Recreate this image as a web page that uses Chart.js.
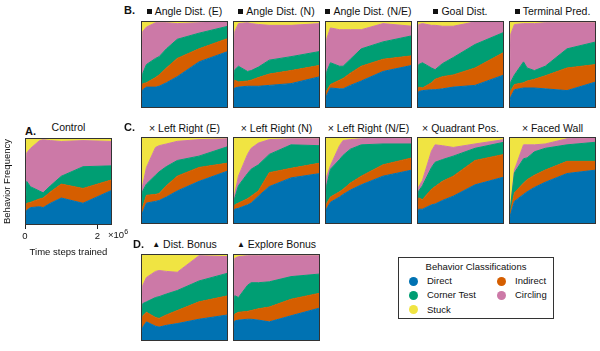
<!DOCTYPE html>
<html>
<head>
<meta charset="utf-8">
<script src="https://cdn.jsdelivr.net/npm/chart.js@4.4.1/dist/chart.umd.min.js"></script>
<style>
  body { margin: 0; width: 600px; height: 351px; position: relative; overflow: hidden; background: #fff;
         font-family: "Liberation Sans", Arial, sans-serif; color: #111; }
  canvas { position: absolute; }
  .title { position: absolute; width: 140px; height: 14px; line-height: 14px; text-align: center; font-size: 10.5px; white-space: nowrap; }
  .letter { position: absolute; height: 14px; line-height: 14px; font-size: 11px; font-weight: bold; }
  .sq { display: inline-block; width: 5px; height: 5px; background: #111; margin-right: 3px; vertical-align: 1px; }
  .tri { font-size: 8px; margin-right: 3px; vertical-align: 1px; }
  .exp { position: absolute; left: 108px; top: 229px; font-size: 9.5px; line-height: 12px; }
  .exp sup { font-size: 7px; vertical-align: 4px; line-height: 0; }
  #legend { position: absolute; left: 398px; top: 257px; width: 154px; height: 60px; border: 1px solid #333; font-size: 9.5px; }
  #legend .lt { position: absolute; left: 0; width: 154px; top: 3px; text-align: center; line-height: 12px; }
  #legend .it { position: absolute; line-height: 12px; white-space: nowrap; }
  #legend .dot { position: absolute; width: 9px; height: 9px; border-radius: 50%; }
</style>
</head>
<body>
<div id="legend"></div>
<script>
// training checkpoints (x 1e6 time steps)
const steps = [0, 0.05, 0.15, 0.4, 0.5, 0.7, 1.0, 1.6, 2.4];
const xTicks = [0, 2e6];

const behaviors = ['Direct', 'Indirect', 'Corner Test', 'Circling', 'Stuck'];

const panelTitles = ['Control', 'Angle Dist. (E)', 'Angle Dist. (N)', 'Angle Dist. (N/E)', 'Goal Dist.', 'Terminal Pred.',
  'Left Right (E)', 'Left Right (N)', 'Left Right (N/E)', 'Quadrant Pos.', 'Faced Wall', 'Dist. Bonus', 'Explore Bonus'];
const panelMarkers = ['', '■', '■', '■', '■', '■', '×', '×', '×', '×', '×', '▲', '▲'];

// one row per panel, same order as panelTitles
const direct = [
  [0.05, 0.17, 0.20, 0.21, 0.20, 0.25, 0.31, 0.25, 0.40],
  [0.02, 0.21, 0.24, 0.24, 0.25, 0.29, 0.36, 0.53, 0.65],
  [0.02, 0.23, 0.24, 0.25, 0.25, 0.25, 0.26, 0.28, 0.36],
  [0.02, 0.15, 0.23, 0.22, 0.22, 0.26, 0.31, 0.42, 0.49],
  [0.02, 0.19, 0.20, 0.21, 0.21, 0.22, 0.24, 0.26, 0.38],
  [0.02, 0.13, 0.21, 0.23, 0.23, 0.23, 0.22, 0.20, 0.30],
  [0.02, 0.14, 0.24, 0.26, 0.27, 0.31, 0.38, 0.49, 0.61],
  [0.02, 0.17, 0.18, 0.22, 0.24, 0.32, 0.43, 0.53, 0.58],
  [0.02, 0.18, 0.25, 0.31, 0.34, 0.39, 0.45, 0.55, 0.62],
  [0.02, 0.17, 0.17, 0.22, 0.23, 0.27, 0.32, 0.45, 0.54],
  [0.02, 0.12, 0.26, 0.34, 0.37, 0.42, 0.48, 0.58, 0.62],
  [0.02, 0.16, 0.22, 0.17, 0.16, 0.18, 0.20, 0.25, 0.30],
  [0.02, 0.23, 0.24, 0.25, 0.25, 0.24, 0.22, 0.29, 0.38]
];
const indirect = [
  [0.02, 0.08, 0.06, 0.09, 0.11, 0.13, 0.16, 0.17, 0.12],
  [0.01, 0.07, 0.05, 0.11, 0.13, 0.17, 0.21, 0.15, 0.15],
  [0.01, 0.09, 0.06, 0.06, 0.07, 0.10, 0.13, 0.15, 0.13],
  [0.01, 0.05, 0.04, 0.10, 0.12, 0.14, 0.17, 0.14, 0.11],
  [0.01, 0.05, 0.03, 0.08, 0.12, 0.14, 0.14, 0.20, 0.26],
  [0.01, 0.07, 0.06, 0.06, 0.08, 0.10, 0.15, 0.26, 0.20],
  [0.01, 0.06, 0.09, 0.08, 0.08, 0.13, 0.17, 0.16, 0.09],
  [0.01, 0.05, 0.06, 0.07, 0.08, 0.06, 0.16, 0.11, 0.12],
  [0.01, 0.06, 0.06, 0.06, 0.06, 0.08, 0.10, 0.13, 0.14],
  [0.01, 0.13, 0.11, 0.18, 0.20, 0.22, 0.23, 0.28, 0.26],
  [0.01, 0.04, 0.10, 0.13, 0.14, 0.14, 0.14, 0.14, 0.10],
  [0.01, 0.13, 0.11, 0.10, 0.10, 0.12, 0.15, 0.20, 0.22],
  [0.01, 0.08, 0.09, 0.09, 0.10, 0.13, 0.17, 0.19, 0.17]
];
const cornerTest = [
  [0.05, 0.25, 0.18, 0.09, 0.06, 0.07, 0.09, 0.25, 0.16],
  [0.02, 0.12, 0.21, 0.22, 0.21, 0.22, 0.22, 0.18, 0.14],
  [0.02, 0.12, 0.18, 0.11, 0.11, 0.12, 0.16, 0.16, 0.16],
  [0.02, 0.22, 0.25, 0.16, 0.14, 0.16, 0.20, 0.20, 0.23],
  [0.02, 0.26, 0.29, 0.17, 0.11, 0.15, 0.20, 0.27, 0.23],
  [0.02, 0.10, 0.11, 0.24, 0.15, 0.10, 0.11, 0.22, 0.26],
  [0.02, 0.18, 0.13, 0.22, 0.25, 0.22, 0.18, 0.13, 0.19],
  [0.02, 0.08, 0.20, 0.29, 0.31, 0.30, 0.21, 0.27, 0.20],
  [0.02, 0.21, 0.32, 0.37, 0.39, 0.39, 0.36, 0.24, 0.16],
  [0.02, 0.08, 0.16, 0.25, 0.28, 0.25, 0.23, 0.14, 0.14],
  [0.02, 0.06, 0.23, 0.28, 0.25, 0.27, 0.25, 0.19, 0.22],
  [0.02, 0.14, 0.12, 0.23, 0.25, 0.24, 0.23, 0.24, 0.26],
  [0.02, 0.21, 0.17, 0.30, 0.32, 0.30, 0.29, 0.26, 0.22]
];
const circling = [
  [0.13, 0.33, 0.44, 0.58, 0.61, 0.52, 0.40, 0.30, 0.28],
  [0.05, 0.48, 0.43, 0.41, 0.39, 0.30, 0.18, 0.12, 0.05],
  [0.05, 0.44, 0.49, 0.56, 0.54, 0.49, 0.40, 0.36, 0.32],
  [0.05, 0.38, 0.40, 0.42, 0.42, 0.34, 0.22, 0.21, 0.11],
  [0.05, 0.46, 0.45, 0.49, 0.51, 0.43, 0.36, 0.26, 0.12],
  [0.05, 0.55, 0.58, 0.44, 0.51, 0.54, 0.50, 0.30, 0.22],
  [0.02, 0.07, 0.19, 0.32, 0.30, 0.26, 0.22, 0.19, 0.09],
  [0.02, 0.05, 0.11, 0.22, 0.24, 0.25, 0.17, 0.07, 0.08],
  [0.02, 0.10, 0.04, 0.16, 0.17, 0.11, 0.07, 0.07, 0.06],
  [0.02, 0.05, 0.06, 0.19, 0.20, 0.16, 0.10, 0.05, 0.03],
  [0.02, 0.01, 0.03, 0.16, 0.15, 0.08, 0.05, 0.07, 0.05],
  [0.05, 0.21, 0.28, 0.30, 0.30, 0.26, 0.21, 0.29, 0.19],
  [0.05, 0.43, 0.47, 0.34, 0.31, 0.31, 0.30, 0.24, 0.21]
];
const stuck = [
  [0.75, 0.17, 0.12, 0.03, 0.02, 0.03, 0.04, 0.03, 0.04],
  [0.90, 0.12, 0.07, 0.02, 0.02, 0.02, 0.03, 0.02, 0.01],
  [0.90, 0.12, 0.03, 0.02, 0.03, 0.04, 0.05, 0.05, 0.03],
  [0.90, 0.20, 0.08, 0.10, 0.10, 0.10, 0.10, 0.03, 0.06],
  [0.90, 0.04, 0.03, 0.05, 0.05, 0.06, 0.06, 0.01, 0.01],
  [0.90, 0.15, 0.04, 0.03, 0.03, 0.03, 0.02, 0.02, 0.02],
  [0.93, 0.55, 0.35, 0.12, 0.10, 0.08, 0.05, 0.03, 0.02],
  [0.93, 0.65, 0.45, 0.20, 0.13, 0.07, 0.03, 0.02, 0.02],
  [0.93, 0.45, 0.33, 0.10, 0.04, 0.03, 0.02, 0.01, 0.02],
  [0.93, 0.57, 0.50, 0.16, 0.09, 0.10, 0.12, 0.08, 0.03],
  [0.93, 0.77, 0.38, 0.09, 0.09, 0.09, 0.08, 0.02, 0.01],
  [0.90, 0.36, 0.27, 0.20, 0.19, 0.20, 0.21, 0.02, 0.03],
  [0.90, 0.05, 0.03, 0.02, 0.02, 0.02, 0.02, 0.02, 0.02]
];

const series = [direct, indirect, cornerTest, circling, stuck];
const colors = ['#0072B2', '#D55E00', '#009E73', '#CC79A7', '#F0E442'];

// layout: top-left corner of each plot box
const BOX = 87;
const boxes = [[25, 138],
  [141, 21], [233, 21], [325, 21], [417, 21], [509, 21],
  [141, 137], [233, 137], [325, 137], [417, 137], [509, 137],
  [141, 254], [233, 254]];
const titleY = [127, 11, 11, 11, 11, 11, 127.5, 127.5, 127.5, 127.5, 127.5, 244, 244];

Chart.defaults.font.family = '"Liberation Sans", Arial, sans-serif';

const boxBorder = {
  id: 'boxBorder',
  afterDatasetsDraw(chart) {
    const { ctx, chartArea: a } = chart;
    ctx.save();
    ctx.strokeStyle = '#333';
    ctx.lineWidth = 1;
    ctx.strokeRect(a.left + 0.5, a.top + 0.5, a.right - a.left - 1, a.bottom - a.top - 1);
    ctx.restore();
  }
};

function addText(cls, html, left, top) {
  const d = document.createElement('div');
  d.className = cls;
  d.innerHTML = html;
  d.style.left = left + 'px';
  d.style.top = top + 'px';
  document.body.appendChild(d);
  return d;
}

function markerHtml(m) {
  if (m === '■') return '<span class="sq"></span>';
  if (m === '▲') return '<span class="tri">▲</span>';
  if (m === '×') return '× ';
  return '';
}

function makePanel(p) {
  const [bx, by] = boxes[p];
  const isCtrl = p === 0;
  const cv = document.createElement('canvas');
  cv.width = isCtrl ? bx + BOX : BOX;
  cv.height = isCtrl ? BOX + 35 : BOX;
  cv.style.left = (isCtrl ? 0 : bx) + 'px';
  cv.style.top = by + 'px';
  document.body.appendChild(cv);

  const xScale = { type: 'linear', min: 0, max: 2.4e6, display: false };
  const yScale = { stacked: true, min: 0, max: 1, display: false };

  // only the control panel shows its axes
  if (isCtrl) {
    Object.assign(xScale, {
      display: true,
      afterBuildTicks: s => { s.ticks = xTicks.map(v => ({ value: v })); },
      afterFit: s => { s.height = 35; },
      grid: { drawOnChartArea: false, tickLength: 4, color: '#222' },
      border: { display: false },
      ticks: { color: '#111', font: { size: 9.5 }, padding: 2, maxRotation: 0, autoSkip: false,
               callback: v => v / 1e6 },
      title: { display: true, text: 'Time steps trained', color: '#111', font: { size: 9.5 },
               padding: { top: 0, bottom: 2 } }
    });
    Object.assign(yScale, {
      display: true,
      afterFit: s => { s.width = bx; },
      grid: { display: false },
      border: { display: false },
      ticks: { display: false },
      title: { display: true, text: 'Behavior Frequency', color: '#111', font: { size: 9.5 },
               padding: { top: 2, bottom: 0 } }
    });
  }

  new Chart(cv, {
    type: 'line',
    data: {
      datasets: series.map((s, k) => ({
        label: behaviors[k],
        data: steps.map((t, i) => ({ x: t * 1e6, y: s[p][i] })),
        backgroundColor: colors[k],
        borderColor: colors[k],
        borderWidth: 1,
        pointRadius: 0,
        tension: 0,
        fill: k === 0 ? 'origin' : '-1'
      }))
    },
    options: {
      responsive: false,
      animation: false,
      events: [],
      layout: { padding: 0 },
      plugins: { legend: { display: false }, tooltip: { enabled: false } },
      scales: { x: xScale, y: yScale }
    },
    plugins: [boxBorder]
  });

  addText('title', markerHtml(panelMarkers[p]) + panelTitles[p], bx + BOX / 2 - 70, titleY[p] - 7);
}

for (let p = 0; p < panelTitles.length; p++) makePanel(p);

// panel letters
addText('letter', 'A.', 25, 124);
addText('letter', 'B.', 124, 3);
addText('letter', 'C.', 124, 120);
addText('letter', 'D.', 133, 237);
addText('exp', '×10<sup>6</sup>', 108, 229);

// shared legend
const legend = document.getElementById('legend');
legend.innerHTML = '<div class="lt">Behavior Classifications</div>';
const legendSlots = [[0, 0], [1, 0], [0, 1], [1, 1], [0, 2]]; // Direct, Indirect, Corner Test, Circling, Stuck
behaviors.forEach((b, k) => {
  const [col, row] = legendSlots[k];
  const x0 = col ? 98 : 10;
  const yc = 23 + row * 14.3;
  const dot = document.createElement('div');
  dot.className = 'dot';
  dot.style.background = colors[k];
  dot.style.left = x0 + 'px';
  dot.style.top = (yc - 4.5) + 'px';
  legend.appendChild(dot);
  const it = document.createElement('div');
  it.className = 'it';
  it.textContent = b;
  it.style.left = (x0 + 18) + 'px';
  it.style.top = (yc - 6) + 'px';
  legend.appendChild(it);
});
</script>
</body>
</html>
